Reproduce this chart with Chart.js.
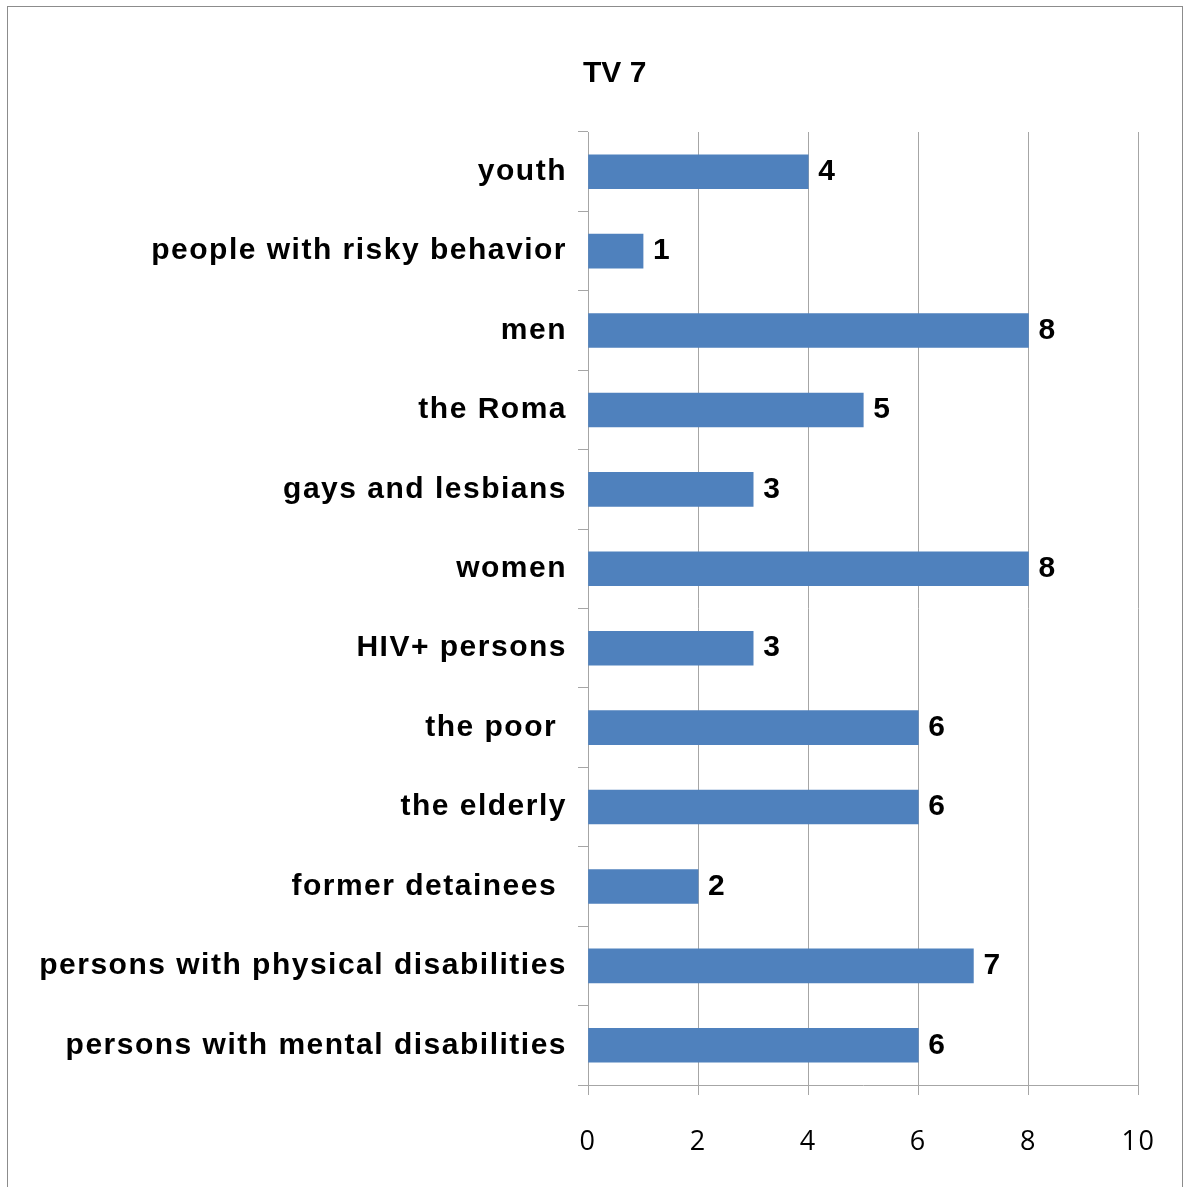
<!DOCTYPE html>
<html>
<head>
<meta charset="utf-8">
<script src="https://cdn.jsdelivr.net/npm/chart.js@4/dist/chart.umd.min.js"></script>
<style>
    body { margin: 0; background: #fff; }
    #wrap { position: relative; width: 1185px; height: 1187px; }
    #frame { position: absolute; left: 7px; top: 6px; width: 1176px; height: 1190px; border: 1px solid #8c8c8c; box-sizing: border-box; }
    canvas { position: absolute; left: 0; top: 0; }
</style>
</head>
<body>
<div id="wrap">
    <div id="frame"></div>
    <canvas id="chart-tv7" width="1185" height="1187"></canvas>
</div>
<script>
const titulo = 'TV 7';
const categorias = [
    'youth',
    'people with risky behavior',
    'men',
    'the Roma',
    'gays and lesbians',
    'women',
    'HIV+ persons',
    'the poor ',
    'the elderly',
    'former detainees ',
    'persons with physical disabilities',
    'persons with mental disabilities'
];
const valores = [4, 1, 8, 5, 3, 8, 3, 6, 6, 2, 7, 6];
const ticksX = [0, 2, 4, 6, 8, 10];

const fonteLabel = 'bold 30px "Liberation Sans", Arial, sans-serif';

// espaçamento das letras nos eixos (o original é mais "aberto")
const espacoPlugin = {
    id: 'espaco',
    beforeDraw(chart) {
        chart.ctx.letterSpacing = '1.5px';
    },
    beforeDatasetsDraw(chart) {
        chart.ctx.letterSpacing = '0px';
    }
};

// rótulos de valor na ponta de cada barra
const valoresPlugin = {
    id: 'valores',
    afterDatasetsDraw(chart) {
        const ctx = chart.ctx;
        const meta = chart.getDatasetMeta(0);
        ctx.save();
        ctx.letterSpacing = '0px';
        ctx.font = fonteLabel;
        ctx.fillStyle = '#000';
        ctx.textAlign = 'left';
        ctx.textBaseline = 'middle';
        meta.data.forEach((bar, i) => {
            ctx.fillText(String(valores[i]), bar.x + 10, bar.y);
        });
        ctx.restore();
    }
};

// título à esquerda do centro, como no original
const tituloPlugin = {
    id: 'tituloFixo',
    afterDraw(chart) {
        const ctx = chart.ctx;
        ctx.save();
        ctx.letterSpacing = '0px';
        ctx.font = 'bold 30px "Liberation Sans", Arial, sans-serif';
        ctx.fillStyle = '#000';
        ctx.textBaseline = 'alphabetic';
        ctx.fillText(titulo, chart.chartArea.left - 5, 82);
        ctx.restore();
    }
};

new Chart(document.getElementById('chart-tv7').getContext('2d'), {
    type: 'bar',
    data: {
        labels: categorias,
        datasets: [{
            data: valores,
            backgroundColor: '#4f81bd',
            borderWidth: 0,
            barThickness: 34
        }]
    },
    options: {
        indexAxis: 'y',
        responsive: false,
        animation: false,
        layout: { padding: { top: 132, right: 46, left: 0, bottom: 0 } },
        plugins: {
            legend: { display: false },
            tooltip: { enabled: false },
            title: { display: false }
        },
        scales: {
            x: {
                min: 0,
                max: 10,
                afterBuildTicks: (scale) => { scale.ticks = ticksX.map(v => ({ value: v })); },
                grid: { color: '#a6a6a6', lineWidth: 1, tickLength: 10 },
                border: { color: '#a6a6a6' },
                ticks: {
                    color: '#000',
                    padding: 31,
                    font: { family: '"Open Sans", sans-serif', size: 27 }
                },
                afterFit: (scale) => { scale.height = 102; }
            },
            y: {
                grid: { offset: true, drawOnChartArea: false, color: '#a6a6a6', tickLength: 10 },
                border: { color: '#a6a6a6' },
                ticks: {
                    color: '#000',
                    padding: 11,
                    autoSkip: false,
                    font: { family: '"Liberation Sans", Arial, sans-serif', size: 30, weight: 'bold' }
                },
                afterFit: (scale) => { scale.width = 588; }
            }
        }
    },
    plugins: [espacoPlugin, valoresPlugin, tituloPlugin]
});
</script>
</body>
</html>
